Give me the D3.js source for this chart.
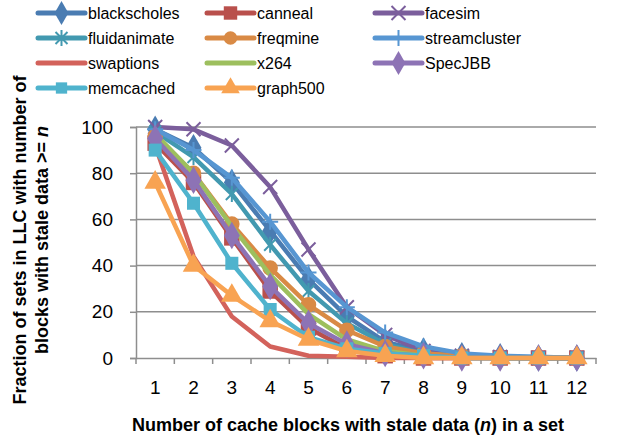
<!DOCTYPE html>
<html>
<head>
<meta charset="utf-8">
<script src="https://cdn.jsdelivr.net/npm/d3@7"></script>
<style>
body { margin: 0; background: #fff; }
svg { font-family: "Liberation Sans", Arial, sans-serif; }
</style>
</head>
<body>
<div class="CHART"></div>
<script>
// values
var categories = [1, 2, 3, 4, 5, 6, 7, 8, 9, 10, 11, 12];
var yTicks = [0, 20, 40, 60, 80, 100];

var blackscholes  = [99, 91, 76, 55, 34, 18, 7, 3, 1, 0.5, 0, 0];
var canneal       = [93, 76, 52, 29, 13, 4, 1, 0, 0, 0, 0, 0];
var facesim       = [100, 99, 92, 74, 47, 22, 10, 3, 1, 0.5, 0, 0];
var fluidanimate  = [98, 87, 71, 49, 29, 15, 6, 2, 1, 0, 0, 0];
var freqmine      = [96, 80, 58, 39, 23, 12, 5, 2, 1, 0, 0, 0];
var streamcluster = [99, 90, 78, 59, 37, 22, 11, 5, 2, 1, 0.5, 0];
var swaptions     = [92, 44, 18, 5, 1, 0.5, 0, 0, 0, 0, 0, 0];
var x264          = [97, 80, 57, 36, 19, 8, 3, 1, 0, 0, 0, 0];
var specjbb       = [95, 77, 53, 31, 15, 6, 2, 1, 0, 0, 0, 0];
var memcached     = [90, 67, 41, 21, 9, 4, 2, 1, 0, 0, 0, 0];
var graph500      = [76, 40, 27, 16, 8, 3, 1, 0, 0, 0, 0, 0];

var series = [
  {name: "blackscholes",  values: blackscholes,  color: "#4a7cb2", marker: "diamond"},
  {name: "canneal",       values: canneal,       color: "#b9504c", marker: "bigsquare"},
  {name: "facesim",       values: facesim,       color: "#7b5e9c", marker: "x"},
  {name: "fluidanimate",  values: fluidanimate,  color: "#4299b0", marker: "star"},
  {name: "freqmine",      values: freqmine,      color: "#d98a45", marker: "circle"},
  {name: "streamcluster", values: streamcluster, color: "#5796d2", marker: "plus"},
  {name: "swaptions",     values: swaptions,     color: "#d3625b", marker: "none"},
  {name: "x264",          values: x264,          color: "#9dbf5e", marker: "none"},
  {name: "SpecJBB",       values: specjbb,       color: "#8d73b5", marker: "diamond"},
  {name: "memcached",     values: memcached,     color: "#4fb3cd", marker: "square"},
  {name: "graph500",      values: graph500,      color: "#f8a352", marker: "triangle"}
];

var W = 629, H = 445;
var canvas = d3.select(".CHART").append("svg")
  .attr("width", W).attr("height", H);

// plot area
var plotL = 136, plotR = 596, plotT = 127, plotB = 358;

var scaleX = d3.scaleBand().domain(categories).range([plotL, plotR]).padding(0);
var scaleY = d3.scaleLinear().domain([0, 100]).range([plotB, plotT]);
var cx = function(c) { return scaleX(c) + scaleX.bandwidth() / 2; };

var gridColor = "#8e8e8e";

// horizontal gridlines
canvas.append("g").selectAll("line")
  .data(yTicks.filter(function(t) { return t > 0; }))
  .enter().append("line")
  .attr("x1", plotL).attr("x2", plotR)
  .attr("y1", function(d) { return scaleY(d); })
  .attr("y2", function(d) { return scaleY(d); })
  .attr("stroke", gridColor).attr("stroke-width", 1.5);

// y axis
var yAxis = canvas.append("g")
  .attr("transform", "translate(" + plotL + ",0)")
  .call(d3.axisLeft(scaleY).tickValues(yTicks).tickSize(6).tickPadding(17));
yAxis.select(".domain").attr("stroke", gridColor).attr("stroke-width", 1.5);
yAxis.selectAll(".tick line").attr("stroke", gridColor).attr("stroke-width", 1.5);
yAxis.selectAll("text").attr("font-size", 19).attr("fill", "#000")
  .attr("font-family", "Liberation Sans, Arial, sans-serif");

// x axis (ticks at category boundaries)
var xAxis = canvas.append("g")
  .attr("transform", "translate(0," + plotB + ")")
  .call(d3.axisBottom(scaleX).tickSize(0).tickPadding(23));
xAxis.select(".domain").attr("stroke", gridColor).attr("stroke-width", 1.5);
xAxis.selectAll("text").attr("font-size", 19).attr("fill", "#000")
  .attr("font-family", "Liberation Sans, Arial, sans-serif");
var edges = categories.map(function(c) { return scaleX(c); }).concat([plotR]);
xAxis.selectAll(".edge").data(edges).enter().append("line")
  .attr("x1", function(d) { return d; }).attr("x2", function(d) { return d; })
  .attr("y1", 0).attr("y2", 6)
  .attr("stroke", gridColor).attr("stroke-width", 1.5);

// marker drawing
function drawMarker(g, type, color, x, y, big) {
  var s = big ? 1 : 0.75;
  var tr = "translate(" + x + "," + y + ")";
  var sym = {diamond: [d3.symbolDiamond, 220], square: [d3.symbolSquare, 170],
             bigsquare: [d3.symbolSquare, 240], circle: [d3.symbolCircle, 190],
             triangle: [d3.symbolTriangle, 200]}[type];
  if (sym) {
    g.append("path").attr("d", d3.symbol().type(sym[0]).size(sym[1] * s)())
      .attr("transform", tr).attr("fill", color);
  } else if (type === "x") {
    g.append("path").attr("d", "M-7,-7L7,7M-7,7L7,-7")
      .attr("transform", tr)
      .attr("stroke", color).attr("stroke-width", 2).attr("fill", "none");
  } else if (type === "star") {
    g.append("path").attr("d", "M-6,-6L6,6M-6,6L6,-6M0,-8L0,8")
      .attr("transform", tr)
      .attr("stroke", color).attr("stroke-width", 2).attr("fill", "none");
  } else if (type === "plus") {
    g.append("path").attr("d", "M-8,0L8,0M0,-8L0,8")
      .attr("transform", tr)
      .attr("stroke", color).attr("stroke-width", 2).attr("fill", "none");
  }
}

var line = d3.line()
  .x(function(d, i) { return cx(categories[i]); })
  .y(function(d) { return scaleY(d); });

series.forEach(function(s) {
  var g = canvas.append("g");
  g.append("path").datum(s.values)
    .attr("d", line)
    .attr("fill", "none").attr("stroke", s.color)
    .attr("stroke-width", 4.5).attr("stroke-linejoin", "round");
  s.values.forEach(function(v, i) {
    drawMarker(g, s.marker, s.color, cx(categories[i]), scaleY(v), true);
  });
});

// legend
var legCols = [38, 207, 375];
var legRows = [13, 38, 63, 88];
var legend = canvas.append("g");
series.forEach(function(s, i) {
  var x = legCols[i % 3], y = legRows[Math.floor(i / 3)];
  legend.append("line").attr("x1", x).attr("x2", x + 47)
    .attr("y1", y).attr("y2", y)
    .attr("stroke", s.color).attr("stroke-width", 5).attr("stroke-linecap", "round");
  drawMarker(legend, s.marker, s.color, x + 23.5, y, false);
  legend.append("text").attr("x", x + 50).attr("y", y)
    .attr("dy", "0.35em").attr("font-size", 16).text(s.name);
});

// axis titles
var xt = canvas.append("text")
  .attr("x", 348).attr("y", 431).attr("text-anchor", "middle")
  .attr("font-size", 18).attr("font-weight", "bold");
xt.append("tspan").text("Number of cache blocks with stale data (");
xt.append("tspan").attr("font-style", "italic").text("n");
xt.append("tspan").text(") in a set");

var yt = canvas.append("g").attr("transform", "translate(26,240) rotate(-90)");
yt.append("text").attr("text-anchor", "middle").attr("font-size", 18)
  .attr("font-weight", "bold").text("Fraction of sets  in LLC with number of");
var yt2 = yt.append("text").attr("y", 22).attr("text-anchor", "middle")
  .attr("font-size", 18).attr("font-weight", "bold");
yt2.append("tspan").text("blocks with stale data >= ");
yt2.append("tspan").attr("font-style", "italic").text("n");
</script>
</body>
</html>
